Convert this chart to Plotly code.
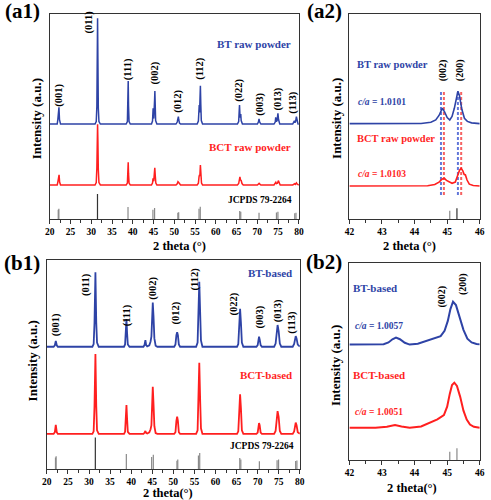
import plotly.graph_objects as go

# ---------------- data ----------------
# (a1) BT raw powder
A1_BT_X = [20, 21.8, 21.95, 22.02, 22.1, 22.22, 22.35, 22.6,
           30.9, 31.2, 31.35, 31.45, 31.52, 31.6, 31.7, 31.85, 32.2,
           38.4, 38.7, 38.82, 38.9, 38.98, 39.1, 39.4,
           44.5, 44.75, 44.85, 44.9, 44.97, 45.05, 45.15, 45.25, 45.32, 45.4, 45.5, 45.8,
           50.4, 50.7, 50.8, 50.88, 50.98, 51.08, 51.25, 51.5,
           55.5, 55.8, 55.92, 56.0, 56.08, 56.18, 56.28, 56.38, 56.5, 56.8,
           65.2, 65.5, 65.62, 65.7, 65.8, 65.92, 66.0, 66.1, 66.4,
           70.0, 70.25, 70.4, 70.55, 70.85,
           74.0, 74.3, 74.42, 74.55, 74.75, 74.95, 75.1, 75.4,
           78.5, 78.8, 78.92, 79.05, 79.2, 79.4, 79.55, 79.8, 80]
A1_BT_Y = [46.3, 46.3, 48.5, 50.5, 49.5, 54.5, 48.5, 46.3,
           46.3, 47.5, 55, 80, 97.9, 78, 54, 47.5, 46.3,
           46.3, 47.5, 55, 67.3, 55, 47.5, 46.3,
           46.3, 47.8, 52, 54, 50, 49, 52, 58, 62.4, 55, 48, 46.3,
           46.3, 47.3, 48.5, 48, 49.9, 48.3, 46.8, 46.3,
           46.3, 47.8, 53, 55.6, 52, 58, 65, 56, 48, 46.3,
           46.3, 47.5, 52, 55.6, 51, 49.5, 51.2, 48, 46.3,
           46.3, 47.3, 48.8, 47.3, 46.3,
           46.3, 47.3, 49.6, 47.5, 48, 51.5, 48.5, 46.3,
           46.3, 47.2, 47.9, 47, 47.5, 49.9, 47.5, 46.3, 46.3]

# (a1) BCT raw powder
A1_BCT_X = [20, 21.8, 21.95, 22.05, 22.12, 22.25, 22.38, 22.6,
            30.9, 31.2, 31.35, 31.45, 31.52, 31.6, 31.7, 31.85, 32.2,
            38.4, 38.7, 38.82, 38.9, 38.98, 39.1, 39.4,
            44.5, 44.75, 44.88, 44.97, 45.05, 45.18, 45.3, 45.42, 45.55, 45.8,
            50.4, 50.7, 50.88, 51.05, 51.25, 51.5,
            55.5, 55.8, 55.95, 56.05, 56.15, 56.28, 56.4, 56.55, 56.8,
            65.2, 65.5, 65.7, 65.8, 65.95, 66.1, 66.3, 66.6,
            70.0, 70.25, 70.42, 70.6, 70.85,
            74.0, 74.3, 74.45, 74.6, 74.85, 75.05, 75.25, 75.5,
            78.5, 78.85, 79.0, 79.15, 79.4, 79.6, 79.9, 80]
A1_BCT_Y = [16.6, 16.6, 18, 19.5, 19, 21.5, 18, 16.6,
            16.6, 17.8, 25, 40, 46.2, 38, 24, 17.8, 16.6,
            16.6, 17.5, 22, 27.7, 22, 17.5, 16.6,
            16.6, 17.5, 19.8, 18.8, 18.5, 21, 25, 21, 17.5, 16.6,
            16.6, 17.2, 18.2, 17.8, 17, 16.6,
            16.6, 17.5, 20.5, 21.5, 21, 26.3, 22, 17.5, 16.6,
            16.6, 17.3, 20, 20.6, 19, 18.8, 17.3, 16.6,
            16.6, 17, 17.4, 17, 16.6,
            16.6, 17.2, 17.9, 17.3, 17.5, 18.7, 17.5, 16.6,
            16.6, 17, 17.2, 16.9, 17.6, 17, 16.6, 16.6]

# JCPDS 79-2264 reference sticks (a1)
A1_STICK_X = [22.05, 22.2, 38.85, 44.85, 45.25, 50.85, 51.05, 55.95, 56.25, 65.75, 66.0, 70.4, 74.6, 74.95, 79.0, 79.3]
A1_STICK_H = [4.5, 5.0, 5.8, 4.5, 5.4, 3.0, 3.3, 5.0, 6.0, 3.9, 3.5, 3.0, 3.2, 3.5, 2.8, 3.0]
A1_MAIN_X = [31.5]
A1_MAIN_H = [12.2]

# (a2) zoom 42-46
A2_BT_X = [42, 44.2, 44.5, 44.65, 44.75, 44.81, 44.85, 44.92, 45.0, 45.08, 45.15, 45.22, 45.28, 45.33,
           45.38, 45.45, 45.53, 45.62, 45.75, 46]
A2_BT_Y = [46.5, 46.6, 47.2, 48.3, 50.5, 53, 54, 52.3, 49.5, 48.3, 50, 54, 59.5, 62.3,
           60, 53.5, 49.1, 47.6, 46.9, 46.5]
A2_BCT_X = [42, 44.4, 44.62, 44.75, 44.85, 44.92, 44.98, 45.08, 45.15, 45.25, 45.33, 45.38, 45.43,
            45.48, 45.52, 45.56, 45.61, 45.68, 45.8, 46]
A2_BCT_Y = [16.1, 16.2, 16.8, 18, 19.5, 19.8, 18.8, 17.8, 17.4, 18, 21, 23.8, 24.7,
            23.5, 21.8, 21.5, 19, 17, 16.3, 16.1]
A2_DASH_BT_X = [44.81, 45.33]
A2_DASH_BCT_X = [44.90, 45.43]
A2_DASH_Y = [11.7, 62.8]
A2_STICK_X = [45.08]
A2_STICK_H = [4.0]
A2_MAIN_X = [45.30]
A2_MAIN_H = [5.2]

# (b1) BT-based
B1_BT_X = [20, 21.6, 21.9, 22.12, 22.35, 22.6,
           30.8, 31.1, 31.3, 31.52, 31.72, 31.9, 32.3,
           38.3, 38.55, 38.73, 38.88, 39.03, 39.2, 39.6,
           42.9, 43.15, 43.37, 43.55, 43.8, 44.3, 44.6, 44.8, 44.93, 45.12, 45.3, 45.5, 45.8, 46.2,
           50.2, 50.5, 50.72, 50.9, 51.08, 51.3, 51.6,
           55.4, 55.75, 55.93, 56.15, 56.37, 56.55, 56.9,
           65.1, 65.4, 65.62, 65.83, 66.03, 66.25, 66.6,
           69.7, 70.0, 70.17, 70.32, 70.47, 70.7, 71.0,
           73.9, 74.25, 74.48, 74.72, 74.97, 75.25, 75.6,
           78.3, 78.65, 78.85, 79.02, 79.22, 79.5, 80]
B1_BT_Y = [58.5, 58.5, 59.2, 61.3, 59.2, 58.5,
           58.5, 59.8, 70, 94.1, 70, 60.5, 58.5,
           58.5, 59.6, 65, 71.8, 65, 59.6, 58.5,
           58.5, 59.3, 61.7, 59.3, 58.7, 59.2, 61, 63.5, 73, 79.6, 73, 62.5, 59, 58.5,
           58.5, 59.6, 64, 65.4, 64, 59.6, 58.5,
           58.5, 60.5, 72, 89.6, 74, 61.5, 58.5,
           58.5, 59.8, 70, 76.6, 70, 60.5, 58.5,
           58.5, 59.3, 62, 63.3, 62, 59.3, 58.5,
           58.5, 60, 66, 68.9, 66, 60, 58.5,
           58.5, 59.8, 63, 63.6, 62.5, 59.5, 58.6]

# (b1) BCT-based
B1_BCT_X = [20, 21.6, 21.9, 22.12, 22.35, 22.6,
            30.8, 31.1, 31.3, 31.52, 31.72, 31.9, 32.3,
            38.3, 38.55, 38.73, 38.88, 39.03, 39.2, 39.6,
            42.9, 43.15, 43.37, 43.55, 43.8, 44.3, 44.6, 44.8, 44.93, 45.12, 45.3, 45.5, 45.8, 46.2,
            50.2, 50.5, 50.72, 50.9, 51.08, 51.3, 51.6,
            55.4, 55.75, 55.93, 56.15, 56.37, 56.55, 56.9,
            65.1, 65.4, 65.62, 65.83, 66.03, 66.25, 66.6,
            69.7, 70.0, 70.17, 70.32, 70.47, 70.7, 71.0,
            73.9, 74.25, 74.48, 74.72, 74.97, 75.25, 75.6,
            78.3, 78.65, 78.85, 79.02, 79.22, 79.5, 80]
B1_BCT_Y = [16.8, 16.8, 17.6, 21.1, 17.6, 16.8,
            16.8, 18, 30, 55, 30, 18.5, 16.8,
            16.8, 17.8, 24, 30.6, 24, 17.8, 16.8,
            16.8, 17.3, 18.2, 17.3, 17, 17.5, 19, 21, 31, 39.3, 31, 20.5, 17.2, 16.8,
            16.8, 17.6, 23, 25, 23, 17.6, 16.8,
            16.8, 18.5, 32, 50.8, 32, 19.5, 16.8,
            16.8, 18, 29, 35.7, 29, 18.5, 16.8,
            16.8, 17.4, 21, 22, 21, 17.4, 16.8,
            16.8, 18.2, 25, 27.7, 25, 18.2, 16.8,
            16.8, 18, 21.5, 22.2, 21, 17.6, 16.9]

B1_STICK_X = [22.05, 22.2, 38.85, 44.85, 45.25, 50.85, 51.05, 55.95, 56.25, 65.75, 66.0, 70.4, 74.6, 74.95, 79.0, 79.3]
B1_STICK_H = [5.5, 6.1, 7.2, 5.8, 6.8, 4.0, 4.5, 6.5, 7.6, 5.3, 4.6, 3.7, 4.2, 4.5, 3.8, 4.1]
B1_MAIN_X = [31.5]
B1_MAIN_H = [15.1]

# (b2) zoom 42-46
B2_BT_X = [42, 43.05, 43.2, 43.32, 43.43, 43.55, 43.7, 43.85, 44.1, 44.35, 44.6, 44.8, 44.92, 45.02,
           45.1, 45.18, 45.27, 45.37, 45.5, 45.62, 45.75, 45.9, 46]
B2_BT_Y = [58.6, 58.7, 59.6, 61.2, 62.0, 61.2, 59.4, 58.5, 58.9, 60.2, 61.5, 62.8, 65.5, 70.5,
           76.5, 80.2, 78.5, 73.5, 66, 61.5, 59.6, 58.8, 58.6]
B2_BCT_X = [42, 42.8, 43.15, 43.4, 43.6, 43.85, 44.2, 44.5, 44.7, 44.9, 45.0, 45.08, 45.15, 45.22,
            45.3, 45.4, 45.5, 45.6, 45.7, 45.82, 46]
B2_BCT_Y = [16.4, 16.4, 16.8, 17.7, 17.0, 16.3, 17.0, 19.4, 20.6, 22.8, 27, 33.5, 38, 39.2,
            37.5, 32, 25, 20.5, 18, 16.8, 16.4]
B2_STICK_X = [45.08]
B2_STICK_H = [4.2]
B2_MAIN_X = [45.30]
B2_MAIN_H = [5.9]

# tick labels
A_TICKS = [20, 25, 30, 35, 40, 45, 50, 55, 60, 65, 70, 75, 80]
Z_TICKS = [42, 43, 44, 45, 46]

# ---------------- styling ----------------
BLUE = "#2e43a6"
RED = "#ff1f1f"
DBLUE = "rgba(70,95,210,0.85)"
DRED = "rgba(245,70,70,0.85)"
FONT = "Liberation Serif"

fig = go.Figure()


def sticks(xs, hs):
    sx, sy = [], []
    for x, h in zip(xs, hs):
        sx += [x, x, None]
        sy += [0, h, None]
    return sx, sy


def add_line(x, y, color, xa, ya, width=1.6, dash=None):
    fig.add_trace(go.Scatter(x=x, y=y, mode="lines", xaxis=xa, yaxis=ya,
                             line=dict(color=color, width=width, dash=dash),
                             hoverinfo="skip", showlegend=False))


def add_sticks(xs, hs, color, xa, ya, width=1.2):
    sx, sy = sticks(xs, hs)
    add_line(sx, sy, color, xa, ya, width=width)


# a1
add_line(A1_BT_X, A1_BT_Y, BLUE, "x", "y", 1.5)
add_line(A1_BCT_X, A1_BCT_Y, RED, "x", "y", 1.5)
add_sticks(A1_STICK_X, A1_STICK_H, "#8a8a8a", "x", "y")
add_sticks(A1_MAIN_X, A1_MAIN_H, "#333333", "x", "y")

# a2
for xd in A2_DASH_BT_X:
    add_line([xd, xd], A2_DASH_Y, DBLUE, "x2", "y2", 2, "3px,2px")
for xd in A2_DASH_BCT_X:
    add_line([xd, xd], A2_DASH_Y, DRED, "x2", "y2", 2, "3px,2px")
add_line(A2_BT_X, A2_BT_Y, BLUE, "x2", "y2", 1.6)
add_line(A2_BCT_X, A2_BCT_Y, RED, "x2", "y2", 1.6)
add_sticks(A2_STICK_X, A2_STICK_H, "#8a8a8a", "x2", "y2")
add_sticks(A2_MAIN_X, A2_MAIN_H, "#333333", "x2", "y2")

# b1
add_line(B1_BT_X, B1_BT_Y, BLUE, "x3", "y3", 1.8)
add_line(B1_BCT_X, B1_BCT_Y, RED, "x3", "y3", 1.8)
add_sticks(B1_STICK_X, B1_STICK_H, "#8a8a8a", "x3", "y3")
add_sticks(B1_MAIN_X, B1_MAIN_H, "#333333", "x3", "y3")

# b2
add_line(B2_BT_X, B2_BT_Y, BLUE, "x4", "y4", 2)
add_line(B2_BCT_X, B2_BCT_Y, RED, "x4", "y4", 2)
add_sticks(B2_STICK_X, B2_STICK_H, "#8a8a8a", "x4", "y4")
add_sticks(B2_MAIN_X, B2_MAIN_H, "#8a8a8a", "x4", "y4")

tickfont = dict(family=FONT, size=9.5, color="black", weight="bold")


def xaxis(domain, anchor, rng, tv, minor_dtick):
    return dict(domain=domain, anchor=anchor, range=rng, tickvals=tv,
                ticktext=[str(t) for t in tv], ticks="outside", ticklen=4,
                tickcolor="#333", tickwidth=1,
                minor=dict(ticks="outside", ticklen=2.5, dtick=minor_dtick, tick0=rng[0],
                           tickcolor="#333"),
                showline=True, linecolor="#333", linewidth=1, mirror=True,
                showgrid=False, zeroline=False, tickfont=tickfont)


def yaxis(domain, anchor):
    return dict(domain=domain, anchor=anchor, range=[0, 100], showticklabels=False,
                ticks="", showline=True, linecolor="#333", linewidth=1, mirror=True,
                showgrid=False, zeroline=False)


fig.update_layout(
    width=491, height=500, margin=dict(l=0, r=0, t=0, b=0),
    paper_bgcolor="white", plot_bgcolor="white", showlegend=False,
    xaxis=xaxis([0.093, 0.611], "y", [20, 80], A_TICKS, 2.5),
    yaxis=yaxis([0.562, 0.972], "x"),
    xaxis2=xaxis([0.716, 0.987], "y2", [42, 46], Z_TICKS, 0.5),
    yaxis2=yaxis([0.562, 0.972], "x2"),
    xaxis3=xaxis([0.087, 0.613], "y3", [20, 80], A_TICKS, 2.5),
    yaxis3=yaxis([0.062, 0.48], "x3"),
    xaxis4=xaxis([0.716, 0.987], "y4", [42, 46], Z_TICKS, 0.5),
    yaxis4=yaxis([0.08, 0.4746], "x4"),
)

ann = []


def txt(text, x, y, xref, yref, size, color="black", xanchor="center", angle=0):
    ann.append(dict(text=text, x=x, y=y, xref=xref, yref=yref, showarrow=False,
                    xanchor=xanchor, yanchor="middle", textangle=angle,
                    font=dict(family=FONT, size=size, color=color)))


# panel labels
txt("<b>(a1)</b>", 0.036, 0.978, "paper", "paper", 21)
txt("<b>(a2)</b>", 0.664, 0.978, "paper", "paper", 21)
txt("<b>(b1)</b>", 0.036, 0.474, "paper", "paper", 21)
txt("<b>(b2)</b>", 0.664, 0.476, "paper", "paper", 21)

# axis titles
txt("<b>Intensity (a.u.)</b>", 0.065, 0.762, "paper", "paper", 13, angle=-90)
txt("<b>Intensity (a.u.)</b>", 0.688, 0.764, "paper", "paper", 13, angle=-90)
txt("<b>Intensity (a.u.)</b>", 0.058, 0.279, "paper", "paper", 13, angle=-90)
txt("<b>Intensity (a.u.)</b>", 0.686, 0.270, "paper", "paper", 13, angle=-90)
txt("<b>2 theta (°)</b>", 0.363, 0.508, "paper", "paper", 12.5)
txt("<b>2 theta (°)</b>", 0.841, 0.508, "paper", "paper", 12.5)
txt("<b>2 theta(°)</b>", 0.338, 0.0145, "paper", "paper", 12.5)
txt("<b>2 theta(°)</b>", 0.847, 0.024, "paper", "paper", 12.5)

# a1 labels
txt("<b>BT raw powder</b>", 78.5, 85.2, "x", "y", 11, BLUE, "right")
txt("<b>BCT raw powder</b>", 78.6, 35.3, "x", "y", 11, RED, "right")
txt("<b>JCPDS 79-2264</b>", 78.8, 9.3, "x", "y", 9.5, "black", "right")
A1_HKL = ["(001)", "(011)", "(111)", "(002)", "(012)", "(112)", "(022)", "(003)", "(013)", "(113)"]
A1_HKL_X = [22.2, 29.5, 38.9, 45.4, 50.9, 56.2, 65.7, 70.6, 75.1, 78.6]
A1_HKL_Y = [60.5, 96.0, 73.2, 71.1, 57.2, 73.3, 62.8, 56.2, 58.5, 56.7]
for t, x, y in zip(A1_HKL, A1_HKL_X, A1_HKL_Y):
    txt("<b>%s</b>" % t, x, y, "x", "y", 10.5, angle=-90)

# a2 labels
txt("<b>BT raw powder</b>", 42.18, 75.5, "x2", "y2", 10.5, BLUE, "left")
txt("<b><i>c/a</i> = 1.0101</b>", 42.2, 57.0, "x2", "y2", 9.5, BLUE, "left")
txt("<b>BCT raw powder</b>", 42.18, 39.3, "x2", "y2", 10.5, RED, "left")
txt("<b><i>c/a</i> = 1.0103</b>", 42.2, 22.0, "x2", "y2", 9.5, RED, "left")
txt("<b>(002)</b>", 44.88, 72.7, "x2", "y2", 10, angle=-90)
txt("<b>(200)</b>", 45.40, 72.7, "x2", "y2", 10, angle=-90)

# b1 labels
txt("<b>BT-based</b>", 78.6, 93.6, "x3", "y3", 11, BLUE, "right")
txt("<b>BCT-based</b>", 78.6, 45.1, "x3", "y3", 11, RED, "right")
txt("<b>JCPDS 79-2264</b>", 79.1, 11.1, "x3", "y3", 9.5, "black", "right")
B1_HKL_X = [22.2, 29.4, 38.9, 45.2, 50.7, 55.1, 64.4, 70.5, 74.7, 78.2]
B1_HKL_Y = [68.8, 88.3, 73.3, 86.3, 74.5, 91.1, 78.8, 72.9, 75.7, 70.1]
for t, x, y in zip(A1_HKL, B1_HKL_X, B1_HKL_Y):
    txt("<b>%s</b>" % t, x, y, "x3", "y3", 10.5, angle=-90)

# b2 labels
txt("<b>BT-based</b>", 42.05, 87.3, "x4", "y4", 11, BLUE, "left")
txt("<b><i>c/a</i> = 1.0057</b>", 42.1, 68.1, "x4", "y4", 9.5, BLUE, "left")
txt("<b>BCT-based</b>", 42.05, 43.1, "x4", "y4", 11, RED, "left")
txt("<b><i>c/a</i> = 1.0051</b>", 42.1, 24.5, "x4", "y4", 9.5, RED, "left")
txt("<b>(002)</b>", 44.84, 82.8, "x4", "y4", 10, angle=-90)
txt("<b>(200)</b>", 45.48, 89.1, "x4", "y4", 10, angle=-90)

fig.update_layout(annotations=ann)
fig.write_html("out.html", config={"displayModeBar": False},
               post_script="document.body.style.margin='0';document.body.style.overflow='hidden';")
